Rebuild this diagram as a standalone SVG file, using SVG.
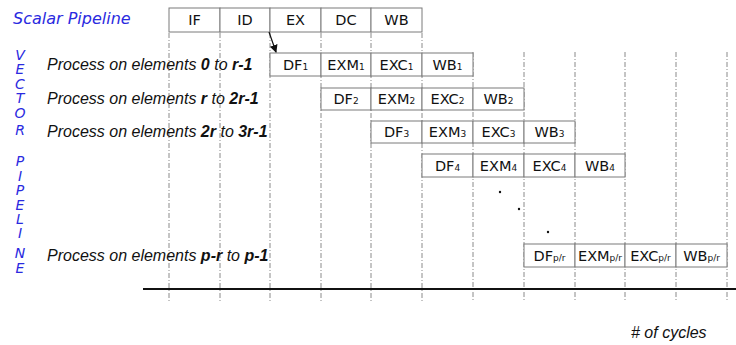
<svg xmlns="http://www.w3.org/2000/svg" width="736" height="345" viewBox="0 0 736 345">
<defs>
<style>
.bx{fill:#fff;stroke:#7a7a7a;stroke-width:1}
.bt{font-family:"DejaVu Sans",Verdana,sans-serif;font-size:14.5px;fill:#111;text-anchor:middle}
.sb{font-size:9px}
.gl{stroke:#8a8a8a;stroke-width:1;stroke-dasharray:5 2 1 2;fill:none}
.pl{font-family:"Liberation Sans",Arial,sans-serif;font-style:italic;font-size:16px;fill:#111}
.b{font-weight:bold}
.vl{font-family:"DejaVu Sans",Verdana,sans-serif;font-style:italic;font-size:14px;fill:#2a2ae0;text-anchor:middle}
</style>
<marker id="ah" markerWidth="8" markerHeight="8" refX="7" refY="4" orient="auto" markerUnits="userSpaceOnUse">
<path d="M0,0 L8,4 L0,8 z" fill="#111"/>
</marker>
</defs>
<rect width="736" height="345" fill="#fff"/>

<g id="gridlines">
<line class="gl" x1="169" y1="33" x2="169" y2="301"/>
<line class="gl" x1="220" y1="33" x2="220" y2="301"/>
<line class="gl" x1="270" y1="33" x2="270" y2="301"/>
<line class="gl" x1="321" y1="33" x2="321" y2="301"/>
<line class="gl" x1="371" y1="33" x2="371" y2="301"/>
<line class="gl" x1="422" y1="33" x2="422" y2="301"/>
<line class="gl" x1="473" y1="52" x2="473" y2="301"/>
<line class="gl" x1="524" y1="52" x2="524" y2="301"/>
<line class="gl" x1="575" y1="52" x2="575" y2="301"/>
<line class="gl" x1="625" y1="52" x2="625" y2="301"/>
<line class="gl" x1="676" y1="52" x2="676" y2="301"/>
<line class="gl" x1="727" y1="52" x2="727" y2="301"/>
</g>

<g id="axis">
<line x1="143" y1="289" x2="736" y2="289" stroke="#111" stroke-width="2"/>
</g>

<g id="labels">
<text x="13" y="24" class="vl" style="text-anchor:start;font-size:16px">Scalar Pipeline</text>
<text class="vl" x="20" y="60">V</text>
<text class="vl" x="20" y="74">E</text>
<text class="vl" x="20" y="89">C</text>
<text class="vl" x="20" y="103">T</text>
<text class="vl" x="20" y="118">O</text>
<text class="vl" x="20" y="135">R</text>
<text class="vl" x="20" y="166">P</text>
<text class="vl" x="20" y="181">I</text>
<text class="vl" x="20" y="195">P</text>
<text class="vl" x="20" y="210">E</text>
<text class="vl" x="20" y="224">L</text>
<text class="vl" x="20" y="238">I</text>
<text class="vl" x="20" y="258">N</text>
<text class="vl" x="20" y="273">E</text>
<text class="pl" x="47" y="70">Process on elements <tspan class="b">0</tspan> to <tspan class="b">r-1</tspan></text>
<text class="pl" x="47" y="104">Process on elements <tspan class="b">r</tspan> to <tspan class="b">2r-1</tspan></text>
<text class="pl" x="47" y="137">Process on elements <tspan class="b">2r</tspan> to <tspan class="b">3r-1</tspan></text>
<text class="pl" x="47" y="261">Process on elements <tspan class="b">p-r</tspan> to <tspan class="b">p-1</tspan></text>
<text class="pl" x="631" y="338"># of cycles</text>
</g>

<g id="dots" fill="#111">
<circle cx="500" cy="192" r="1.2"/>
<circle cx="519" cy="209" r="1.2"/>
<circle cx="548" cy="232" r="1.2"/>
</g>

<g id="scalar">
<rect class="bx" x="169" y="8" width="51" height="24"/><text class="bt" x="194.5" y="25">IF</text>
<rect class="bx" x="220" y="8" width="50" height="24"/><text class="bt" x="245" y="25">ID</text>
<rect class="bx" x="270" y="8" width="51" height="24"/><text class="bt" x="295.5" y="25">EX</text>
<rect class="bx" x="321" y="8" width="50" height="24"/><text class="bt" x="346" y="25">DC</text>
<rect class="bx" x="371" y="8" width="51" height="24"/><text class="bt" x="396.5" y="25">WB</text>
</g>

<g id="row1">
<rect class="bx" x="270" y="53" width="51" height="23"/><text class="bt" x="295.5" y="70">DF<tspan class="sb">1</tspan></text>
<rect class="bx" x="321" y="53" width="50" height="23"/><text class="bt" x="346" y="70">EXM<tspan class="sb">1</tspan></text>
<rect class="bx" x="371" y="53" width="51" height="23"/><text class="bt" x="396.5" y="70">EXC<tspan class="sb">1</tspan></text>
<rect class="bx" x="422" y="53" width="51" height="23"/><text class="bt" x="447.5" y="70">WB<tspan class="sb">1</tspan></text>
</g>

<g id="row2">
<rect class="bx" x="321" y="88" width="50" height="22"/><text class="bt" x="346" y="104">DF<tspan class="sb">2</tspan></text>
<rect class="bx" x="371" y="88" width="51" height="22"/><text class="bt" x="396.5" y="104">EXM<tspan class="sb">2</tspan></text>
<rect class="bx" x="422" y="88" width="51" height="22"/><text class="bt" x="447.5" y="104">EXC<tspan class="sb">2</tspan></text>
<rect class="bx" x="473" y="88" width="51" height="22"/><text class="bt" x="498.5" y="104">WB<tspan class="sb">2</tspan></text>
</g>

<g id="row3">
<rect class="bx" x="371" y="121" width="51" height="22"/><text class="bt" x="396.5" y="137">DF<tspan class="sb">3</tspan></text>
<rect class="bx" x="422" y="121" width="51" height="22"/><text class="bt" x="447.5" y="137">EXM<tspan class="sb">3</tspan></text>
<rect class="bx" x="473" y="121" width="51" height="22"/><text class="bt" x="498.5" y="137">EXC<tspan class="sb">3</tspan></text>
<rect class="bx" x="524" y="121" width="51" height="22"/><text class="bt" x="549.5" y="137">WB<tspan class="sb">3</tspan></text>
</g>

<g id="row4">
<rect class="bx" x="422" y="154" width="51" height="23"/><text class="bt" x="447.5" y="171">DF<tspan class="sb">4</tspan></text>
<rect class="bx" x="473" y="154" width="51" height="23"/><text class="bt" x="498.5" y="171">EXM<tspan class="sb">4</tspan></text>
<rect class="bx" x="524" y="154" width="51" height="23"/><text class="bt" x="549.5" y="171">EXC<tspan class="sb">4</tspan></text>
<rect class="bx" x="575" y="154" width="50" height="23"/><text class="bt" x="600" y="171">WB<tspan class="sb">4</tspan></text>
</g>

<g id="rowp">
<rect class="bx" x="524" y="244" width="51" height="23"/><text class="bt" x="549.5" y="261">DF<tspan class="sb">p/r</tspan></text>
<rect class="bx" x="575" y="244" width="50" height="23"/><text class="bt" x="600" y="261">EXM<tspan class="sb">p/r</tspan></text>
<rect class="bx" x="625" y="244" width="51" height="23"/><text class="bt" x="650.5" y="261">EXC<tspan class="sb">p/r</tspan></text>
<rect class="bx" x="676" y="244" width="51" height="23"/><text class="bt" x="701.5" y="261">WB<tspan class="sb">p/r</tspan></text>
</g>

<g id="connectors">
<line x1="269" y1="32" x2="276" y2="52" stroke="#111" stroke-width="1.2" marker-end="url(#ah)"/>
</g>
</svg>
